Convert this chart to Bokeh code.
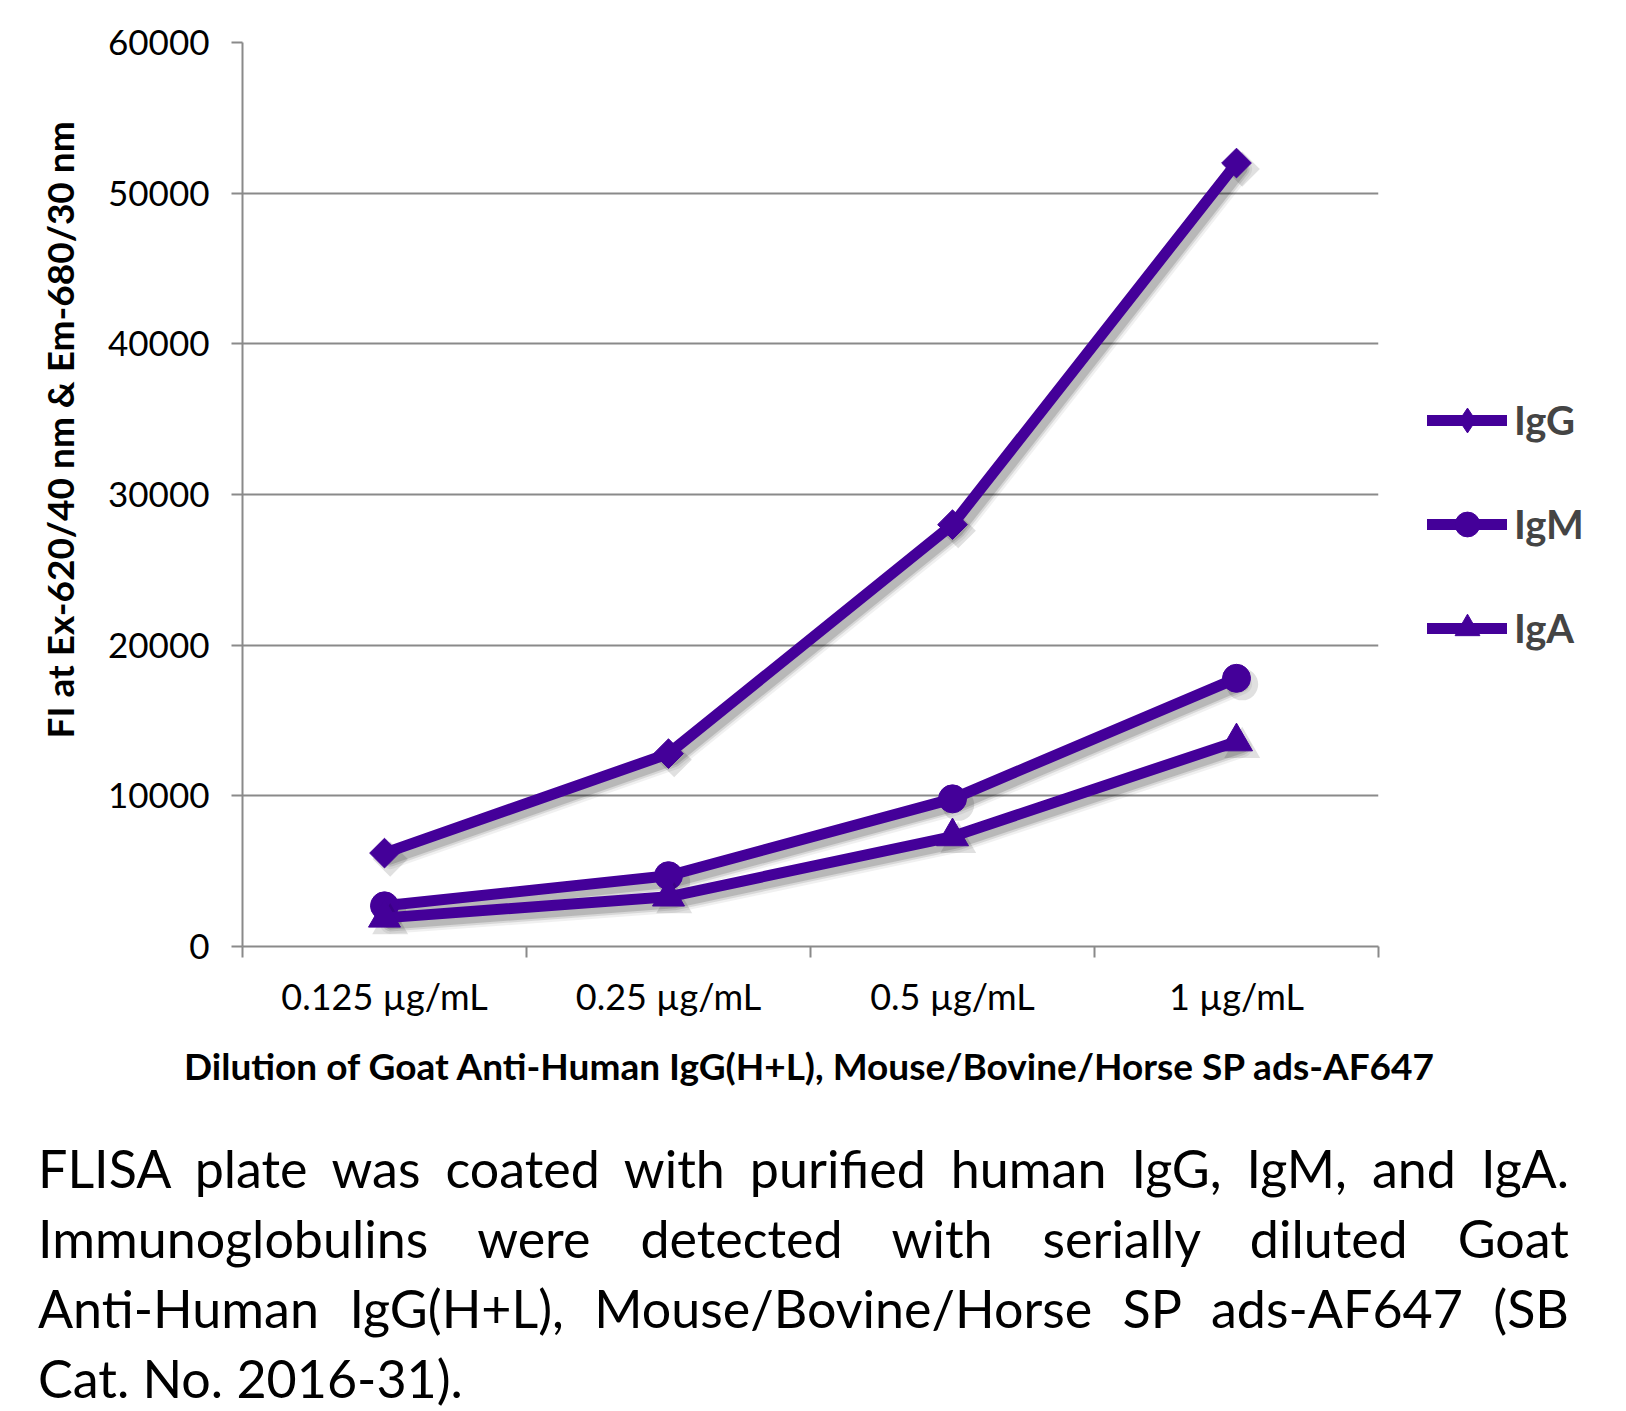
from bokeh.plotting import figure
from bokeh.models import (FactorRange, Range1d, LinearAxis, CategoricalAxis, FixedTicker,
                          Title, Legend, LegendItem, Div, ColumnDataSource)
from bokeh.layouts import column, row
from bokeh.transform import dodge
from bokeh.embed import file_html
from bokeh.resources import INLINE
import math

# ---------------- data ----------------
categories = ["0.125 µg/mL", "0.25 µg/mL", "0.5 µg/mL", "1 µg/mL"]
igg = [6200, 12800, 28000, 52000]
igm = [2700, 4700, 9800, 17800]
iga = [1900, 3300, 7300, 13600]
series_names = ["IgG", "IgM", "IgA"]
y_ticks = [0, 10000, 20000, 30000, 40000, 50000, 60000]
x_title = "Dilution of Goat Anti-Human IgG(H+L), Mouse/Bovine/Horse SP ads-AF647"
y_title = "FI at Ex-620/40 nm & Em-680/30 nm"
caption_lines = [
    "FLISA plate was coated with purified human IgG, IgM, and IgA.",
    "Immunoglobulins were detected with serially diluted Goat",
    "Anti-Human IgG(H+L), Mouse/Bovine/Horse SP ads-AF647 (SB",
    "Cat. No. 2016-31).",
]

PURPLE = "#440099"
GRID = "#8a8a8a"
FONT = "Lato"

H = 1040
PW = 1380          # main plot width (frame ends at x=1378)
LW = 1618 - PW     # legend strip width

p = figure(width=PW, height=H, output_backend="svg", toolbar_location=None,
           x_range=FactorRange(*categories, range_padding=0),
           y_range=Range1d(0, 60000),
           x_axis_location=None, y_axis_location=None,
           min_border_left=242, min_border_right=2, min_border_top=42,
           min_border_bottom=H - 946)
p.outline_line_color = None
p.background_fill_color = "white"
p.border_fill_color = "white"

# y axis
yax = LinearAxis(ticker=FixedTicker(ticks=y_ticks))
yax.axis_line_color = GRID
yax.axis_line_width = 2
yax.major_tick_line_color = GRID
yax.major_tick_line_width = 2
yax.major_tick_out = 11
yax.major_tick_in = 0
yax.minor_tick_line_color = None
yax.major_label_standoff = 22
yax.major_label_text_font = FONT
yax.major_label_text_font_size = "35px"
yax.major_label_text_color = "black"
p.add_layout(yax, "left")

# x axis line with ticks at category boundaries (synthetic coordinates 0..N)
bounds = list(range(len(categories) + 1))
xtick_ax = LinearAxis(ticker=FixedTicker(ticks=bounds))
xtick_ax.axis_line_color = GRID
xtick_ax.axis_line_width = 2
xtick_ax.major_tick_line_color = GRID
xtick_ax.major_tick_line_width = 2
xtick_ax.major_tick_out = 11
xtick_ax.major_tick_in = 0
xtick_ax.minor_tick_line_color = None
xtick_ax.major_label_overrides = {b: "" for b in bounds}
xtick_ax.major_label_text_color = None
xtick_ax.major_label_text_font_size = "1px"
xtick_ax.major_label_standoff = 0
p.add_layout(xtick_ax, "below")

xcat = CategoricalAxis()
xcat.axis_line_color = None
xcat.major_tick_line_color = None
xcat.major_tick_out = 0
xcat.major_tick_in = 0
xcat.major_label_standoff = 16
xcat.major_label_text_font = FONT
xcat.major_label_text_font_size = "36px"
xcat.major_label_text_color = "black"
p.add_layout(xcat, "below")

p.xgrid.visible = False
p.ygrid.grid_line_color = GRID
p.ygrid.grid_line_width = 2
p.ygrid.ticker = FixedTicker(ticks=y_ticks)

# y axis title
p.add_layout(Title(text=y_title, align="left", offset=208, text_font=FONT,
                   text_font_style="bold", text_font_size="37px", text_color="black",
                   standoff=48), "left")

# ---------------- series ----------------
markers = ["square", "circle", "triangle"]
angles = [math.pi / 4, 0, 0]
sizes = [21, 28, 32]
legend_markers = ["diamond", "circle", "triangle"]
sources = []
for name, vals, mk, ang, sz, lmk in zip(series_names, [igg, igm, iga], markers, angles,
                                        sizes, legend_markers):
    src = ColumnDataSource(dict(x=categories, y=vals))
    # soft drop shadow
    for w, a in [(20, 0.06), (15, 0.10), (11, 0.14)]:
        p.line(x=dodge("x", 0.02, range=p.x_range), y=dodge("y", -400), source=src,
               line_color="black", line_alpha=a, line_width=w, line_join="round", line_cap="round")
    p.scatter(x=dodge("x", 0.02, range=p.x_range), y=dodge("y", -400), source=src, marker=mk,
              angle=ang, size=sz + 4, fill_color="black", fill_alpha=0.12, line_color=None)
    p.line("x", "y", source=src, line_color=PURPLE, line_width=11,
           line_join="round", line_cap="round")
    p.scatter("x", "y", source=src, marker=mk, angle=ang, size=sz,
              fill_color=PURPLE, line_color=PURPLE)
    sources.append((name, src, lmk))

# ---------------- legend strip ----------------
lf = figure(width=LW, height=H, output_backend="svg", toolbar_location=None,
            x_range=FactorRange(*categories), y_range=Range1d(-20, -10),
            x_axis_location=None, y_axis_location=None,
            min_border_left=0, min_border_right=0, min_border_top=0, min_border_bottom=0)
lf.outline_line_color = None
lf.grid.visible = False
items = []
for name, src, lmk in sources:
    ln = lf.line("x", "y", source=src, line_color=PURPLE, line_width=11,
                 line_join="round", line_cap="round")
    sc = lf.scatter("x", "y", source=src, marker=lmk, fill_color=PURPLE, line_color=PURPLE)
    items.append(LegendItem(label=name, renderers=[ln, sc]))

legend = Legend(items=items, location=(47, 287), orientation="vertical")
legend.padding = 0
legend.margin = 0
legend.border_line_color = None
legend.background_fill_alpha = 0
legend.glyph_width = 80
legend.glyph_height = 62
legend.label_height = 62
legend.spacing = 42
legend.label_standoff = 7
legend.label_text_font = FONT
legend.label_text_font_style = "bold"
legend.label_text_font_size = "40px"
legend.label_text_baseline = "middle"
lf.add_layout(legend, "center")

# ---------------- x axis title ----------------
xt = Div(text=('<div style="width:1598px;padding-left:20px;text-align:center;white-space:nowrap;'
               f'font-family:{FONT};font-weight:bold;font-size:37px;line-height:52px;'
               f'color:black;">{x_title}</div>'),
         width=1618, height=93, margin=(0, 0, 0, 0))

# ---------------- caption ----------------
line_divs = []
for i, t in enumerate(caption_lines):
    last = "justify" if i < len(caption_lines) - 1 else "left"
    line_divs.append(
        f'<div style="text-align:justify;text-align-last:{last};white-space:nowrap;">{t}</div>')
html = ('<div style="width:1531px;margin-left:38px;height:275px;overflow:hidden;'
        f'font-family:{FONT};font-size:52px;line-height:70px;color:black;">'
        + "".join(line_divs) + "</div>")
cap = Div(text=html, width=1618, height=275, margin=(0, 0, 0, 0))

layout = column(row(p, lf, spacing=0), xt, cap, spacing=0)
open("out.html", "w").write(file_html(layout, INLINE))
